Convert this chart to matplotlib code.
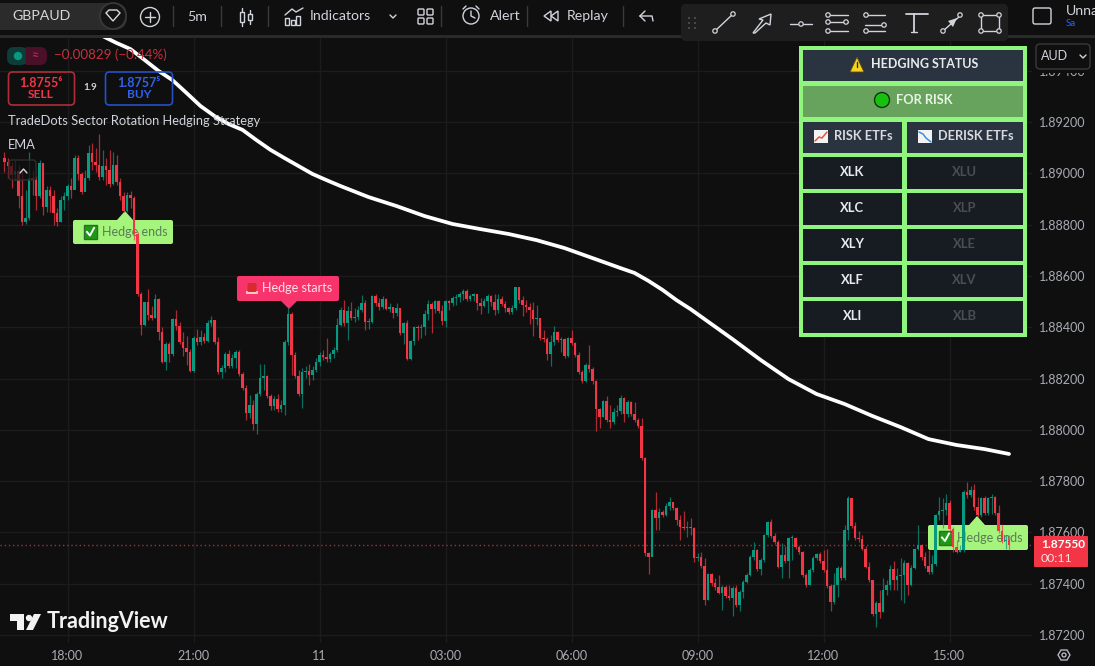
import matplotlib
matplotlib.use("Agg")
import matplotlib.pyplot as plt
from matplotlib.patches import Rectangle, FancyBboxPatch, Polygon, Circle
import numpy as np

plt.rcParams["font.family"] = ["Lato", "DejaVu Sans"]

# prices are stored as points above 1.87000 (1 point = 0.00001)
first_open = 2060
close_pts = [
    2045,2029,1994,2010,1912,1811,1826,1982,1974,1912,2041,1869,1936,1912,1846,1811,1897,1912,1951,1936,
    2060,1998,1928,1982,2080,2045,2033,1986,2029,2014,1959,2033,1967,1912,1854,1916,1904,1764,1530,
    1409,1499,1448,1436,1510,1382,1265,1335,1296,1432,1405,1343,1319,1304,1230,1358,1343,1362,1347,1417,
    1429,1343,1226,1241,1296,1249,1280,1304,1218,1163,1066,1097,1023,1140,1202,1210,1132,1093,1120,1081,
    1097,1343,1452,1292,1210,1140,1226,1230,1214,1234,1265,1292,1284,1276,1296,1311,1409,1468,1417,1464,
    1436,1440,1468,1495,1421,1421,1522,1495,1479,1510,1471,1479,1456,1475,1378,1417,1276,1347,1401,1397,
    1401,1452,1491,1471,1503,1464,1425,1503,1495,1514,1518,1530,1542,1510,1522,1530,1495,1483,1503,1522,
    1499,1468,1510,1491,1475,1460,1475,1557,1507,1487,1479,1468,1432,1436,1358,1354,1296,1343,1382,1351,
    1354,1288,1358,1339,1292,1226,1191,1253,1237,1191,1081,1050,1113,1038,1031,1070,1074,1124,1062,1109,
    1062,1038,1015,890,520,504,688,656,680,668,703,719,695,648,621,617,621,617,500,504,
    469,336,438,403,387,364,387,352,344,383,317,368,407,434,504,531,457,493,590,641,
    586,563,465,512,489,578,578,543,524,434,395,453,500,516,489,453,391,329,395,461,
    422,609,734,625,578,574,535,465,415,282,325,290,375,395,457,415,430,434,481,395,
    461,535,551,504,469,446,477,668,684,688,715,613,543,524,531,758,746,765,699,668,
    734,676,734,738,676,606,567,571,550,
]
high_pts = [
    2084,2060,2045,2052,2033,2014,1936,2084,2014,1990,2052,2041,1951,1951,1936,1865,1912,1928,1959,1982,
    2072,2072,2006,2014,2111,2119,2099,2154,2091,2060,2091,2084,2072,1982,1928,1928,1932,1912,1772,
    1538,1499,1549,1483,1530,1514,1401,1343,1343,1436,1468,1421,1382,1366,1315,1366,1393,1390,1378,1429,
    1444,1429,1362,1253,1304,1311,1296,1311,1311,1226,1175,1136,1116,1148,1257,1257,1214,1140,1132,1140,
    1116,1351,1475,1460,1304,1234,1241,1249,1257,1249,1280,1304,1311,1358,1304,1323,1436,1479,1507,1483,
    1499,1475,1483,1526,1507,1436,1526,1530,1514,1522,1514,1495,1479,1495,1475,1421,1429,1351,1405,1409,
    1413,1468,1507,1499,1507,1507,1487,1507,1507,1522,1530,1538,1549,1549,1530,1534,1530,1514,1514,1530,
    1526,1530,1530,1522,1503,1479,1487,1557,1557,1522,1507,1495,1499,1487,1436,1390,1362,1370,1405,1386,
    1362,1358,1362,1390,1343,1304,1234,1261,1331,1245,1194,1085,1116,1132,1097,1085,1097,1136,1128,1116,
    1113,1109,1046,1046,894,524,691,758,695,688,715,738,719,699,668,684,645,656,621,520,
    524,500,442,442,422,434,395,395,395,391,395,375,415,442,512,563,535,500,594,645,
    652,598,571,559,547,582,590,582,551,528,442,461,508,520,524,531,535,399,442,469,
    469,629,742,734,641,606,590,547,485,415,333,375,422,415,473,489,461,500,493,485,
    473,539,629,555,524,531,512,672,738,734,750,727,621,571,551,765,797,781,789,738,
    738,742,738,750,742,707,633,590,590,
]
low_pts = [
    2006,1982,1943,1974,1865,1799,1803,1818,1916,1858,1904,1838,1850,1850,1799,1795,1811,1858,1897,1904,
    1982,1974,1920,1936,1974,2014,2006,1974,1974,1955,1947,1955,1955,1897,1850,1850,1865,1740,1522,
    1370,1405,1429,1429,1436,1351,1261,1234,1265,1288,1390,1335,1288,1253,1226,1226,1331,1331,1339,1343,
    1405,1335,1218,1202,1226,1241,1241,1241,1210,1156,1038,1046,1000,984,1132,1156,1124,1077,1077,1070,
    1070,1058,1331,1214,1202,1132,1085,1202,1175,1194,1226,1249,1272,1265,1265,1280,1304,1405,1405,1351,
    1429,1421,1429,1460,1390,1393,1417,1483,1468,1471,1468,1460,1436,1444,1370,1335,1272,1272,1331,1351,
    1358,1370,1429,1378,1456,1456,1409,1401,1468,1483,1487,1499,1507,1503,1503,1503,1468,1452,1479,1456,
    1483,1448,1456,1483,1460,1452,1452,1468,1495,1444,1460,1413,1366,1409,1351,1343,1272,1249,1331,1343,
    1304,1280,1284,1331,1284,1218,1183,1187,1226,1179,996,1007,1050,1031,1007,1023,1054,1062,1031,1050,
    1054,1031,1007,882,508,438,508,610,610,660,664,688,688,629,571,610,582,590,485,489,
    461,317,336,391,375,360,297,344,336,274,309,294,344,403,430,493,450,434,485,582,
    578,555,461,422,481,422,493,535,516,426,387,395,446,493,481,446,383,294,321,348,
    415,415,571,617,571,563,531,461,407,274,231,266,290,356,375,375,375,336,325,356,
    391,457,531,493,461,438,438,469,649,617,668,602,524,520,524,524,734,738,688,660,
    660,668,668,672,668,598,559,535,531,
]

# EMA, candle index and points above 1.87000
ema_index = [28, 32, 36, 40, 44, 48, 52, 56, 60, 64, 68, 72, 76, 80, 84, 88, 92, 96, 104, 112, 120, 128,
             136, 144, 152, 160, 168, 176, 180, 184, 188, 192, 196, 200, 204, 208, 216, 224, 232, 240, 248,
             256, 264, 272, 280, 287]
ema_pts = [2536, 2509, 2485, 2443, 2400, 2364, 2314, 2263, 2224, 2193, 2170, 2130, 2092, 2060, 2029, 1998,
           1974, 1951, 1908, 1873, 1834, 1803, 1783, 1764, 1740, 1709, 1670, 1631, 1612, 1581, 1546, 1506,
           1471, 1432, 1393, 1354, 1273, 1198, 1140, 1101, 1054, 1011, 964, 941, 925, 906]

price_ticks = [1.872, 1.874, 1.876, 1.878, 1.880, 1.882, 1.884, 1.886, 1.888, 1.890, 1.892, 1.894]
time_ticks = [18, 54, 90, 126, 162, 198, 234, 270]
time_labels = ["18:00", "21:00", "11", "03:00", "06:00", "09:00", "12:00", "15:00"]
last_price = 1.87550
risk_etfs = ["XLK", "XLC", "XLY", "XLF", "XLI"]
derisk_etfs = ["XLU", "XLP", "XLE", "XLV", "XLB"]

BG = "#0f0f0f"
GRID = "#1c1c1c"
UP = "#089981"
DOWN = "#f23645"
TXT = "#d1d4dc"
PANEL_GREEN = "#8ff57c"

close = 1.87 + np.array(close_pts) / 1e5
high = 1.87 + np.array(high_pts) / 1e5
low = 1.87 + np.array(low_pts) / 1e5
opens = np.r_[1.87 + first_open / 1e5, close[:-1]]
idx = np.arange(len(close))
up = close >= opens
colors = np.where(up, UP, DOWN)

fig = plt.figure(figsize=(10.95, 6.66), dpi=100, facecolor=BG)
ax = fig.add_axes([0, 23 / 666, 1032 / 1095, 607 / 666], facecolor=BG)
ax.set_xlim(-1.2857, 293.57)
ax.set_ylim(1.87 + 168.8 / 1e5, 1.87 + 2536.1 / 1e5)
for s in ax.spines.values():
    s.set_visible(False)
ax.yaxis.tick_right()
ax.set_yticks(price_ticks, [f"{p:.5f}" for p in price_ticks])
ax.set_xticks(time_ticks, time_labels)
ax.tick_params(axis="both", length=0, labelsize=9.0, labelcolor="#a8abb3")
ax.tick_params(axis="y", pad=5)
ax.tick_params(axis="x", pad=5)
ax.grid(True, color=GRID, lw=1)
ax.set_axisbelow(True)

# candles
ax.vlines(idx, low, high, colors=colors, lw=0.9, alpha=0.7, zorder=4)
ax.bar(idx, np.maximum(np.abs(close - opens), 0.00005), bottom=np.minimum(close, opens),
       width=0.85, color=colors, lw=0, zorder=5)
ax.plot(ema_index, 1.87 + np.array(ema_pts) / 1e5, color="white", lw=2.7, zorder=6, solid_capstyle="round")
ax.axhline(last_price, color="#a3303c", lw=1, ls=(0, (1, 2)), zorder=3)

# everything that is not chart goes on an overlay in pixels
ui = fig.add_axes([0, 0, 1, 1], facecolor="none", zorder=5)
ui.set_xlim(0, 1095)
ui.set_ylim(666, 0)
ui.axis("off")


def box(x0, y0, x1, y1, fc, ec="none", lw=0, r=0, target=None, z=2):
    if r:
        p = FancyBboxPatch((x0 + r, y0 + r), x1 - x0 - 2 * r, y1 - y0 - 2 * r, boxstyle=f"round,pad={r}",
                           fc=fc, ec=ec, lw=lw, zorder=z)
    else:
        p = Rectangle((x0, y0), x1 - x0, y1 - y0, fc=fc, ec=ec, lw=lw, zorder=z)
    if target is not None:
        p.set_transform(ui.transData)
        p.set_clip_on(False)
        target.add_patch(p)
    else:
        ui.add_patch(p)
    return p


def label(x, y, s, size=10, color=TXT, weight="normal", ha="left", z=4):
    return ui.text(x, y, s, fontsize=size, color=color, fontweight=weight, ha=ha, va="center", zorder=z)


def line(xs, ys, color=TXT, lw=1.0, z=4):
    ui.plot(xs, ys, color=color, lw=lw, zorder=z, solid_capstyle="round", solid_joinstyle="round")


def ring(x, y, r, ec=TXT, fc="none", lw=1.0, z=4):
    ui.add_patch(Circle((x, y), r, fc=fc, ec=ec, lw=lw, zorder=z))


# hedge labels sit under the candles
def hedge_label(x0, y0, x1, y1, tip_x, tip_y, text, fc, tc, kind):
    box(x0, y0, x1, y1, fc, r=2, target=ax, z=3)
    below = tip_y > y1
    base = y1 if below else y0
    tri = Polygon([(tip_x - 8, base), (tip_x + 8, base), (tip_x, tip_y)], fc=fc, ec="none", zorder=3,
                  transform=ui.transData, clip_on=False)
    ax.add_patch(tri)
    cy = (y0 + y1) / 2
    if kind == "end":
        box(x0 + 11, cy - 7, x0 + 24, cy + 7, "#1d9a15", ec="#2f6b2b", lw=1, target=ax, z=3.2)
        ax.plot([x0 + 14, x0 + 17, x0 + 21], [cy, cy + 3.5, cy - 4], color="white", lw=1.4, zorder=3.3,
                transform=ui.transData, clip_on=False)
        tx = x0 + 29
    else:
        box(x0 + 9, cy + 2, x0 + 21, cy + 5, "#f4c7c7", target=ax, z=3.2)
        w = FancyBboxPatch((x0 + 12, cy - 4), 6, 6, boxstyle="round,pad=1.5", fc="#d92b2b", ec="none", zorder=3.2,
                           transform=ui.transData, clip_on=False)
        ax.add_patch(w)
        tx = x0 + 25
    ax.text(tx, cy, text, fontsize=9.0, color=tc, va="center", ha="left", zorder=3.4,
            transform=ui.transData, clip_on=False)


hedge_label(73, 220, 173, 244, 125, 211, "Hedge ends", "#a5f57c", "#5a7c56", "end")
hedge_label(237, 276, 339, 301, 289, 309, "Hedge starts", "#f7346b", "#fde3ea", "start")
hedge_label(928, 525, 1028, 550, 977, 516, "Hedge ends", "#a5f57c", "#5a7c56", "end")

# top bar
box(0, 0, 1095, 35, BG)
box(0, 35, 1095, 38, "#2a2a2a")
box(-14, 3, 127, 30, "#2b2b2b", r=13)
label(12, 16, "GBPAUD", 10.2, "#d8d8d8")
ring(113, 16, 13, ec="#3a3a3a", fc="#141414", lw=1.2)
ui.add_patch(Polygon([(106, 13), (109, 10), (117, 10), (120, 13), (113, 21)], fc="none", ec="#d8d8d8", lw=1, zorder=4))
ring(150, 17, 9.5, lw=1)
line([145, 155], [17, 17])
line([150, 150], [12, 22])
for sx in [173, 221, 268, 441, 527, 623]:
    line([sx, sx], [6, 26], color="#3a3a3a", lw=1)
label(197, 17, "5m", 10.2, ha="center")
# candle icon
line([242, 242], [8, 26])
line([250, 250], [10, 24])
box(240, 12, 244, 22, BG, ec=TXT, lw=1, z=4)
box(248, 14, 252, 20, BG, ec=TXT, lw=1, z=4)
# indicators icon
line([285, 292, 296, 303], [15, 9, 12, 8], lw=1)
for bx, by in [(285, 18), (291, 20), (296, 16)]:
    box(bx, by, bx + 4, 25, "none", ec=TXT, lw=1, z=4)
label(310, 16, "Indicators", 10.2)
line([390, 393, 396], [15, 18, 15], lw=1)
for gx in [418, 427]:
    for gy in [9, 18]:
        box(gx, gy, gx + 6, gy + 6, "none", ec=TXT, lw=1, r=1, z=4)
# alert
ring(471, 16, 8)
line([463, 466], [9, 6])
line([476, 479], [6, 9])
line([471, 471, 475], [11, 16, 18])
label(490, 16, "Alert", 10.2)
# replay
ui.add_patch(Polygon([(551, 11), (551, 21), (544, 16)], fc="none", ec=TXT, lw=1, zorder=4))
ui.add_patch(Polygon([(558, 11), (558, 21), (551, 16)], fc="none", ec=TXT, lw=1, zorder=4))
label(567, 16, "Replay", 10.2)
line([640, 645], [16, 11])
line([640, 645], [16, 21])
line([640, 652, 653], [16, 16, 21])
box(1033, 8, 1051, 24, "none", ec=TXT, lw=1, r=2, z=4)
label(1066, 11, "Unna", 10.2)
label(1066, 24, "Sa", 7, "#2962ff")

# floating drawing bar
box(681, 4, 1008, 41, "#1e1e1e", r=5, z=3)
for dy in [18, 23, 28]:
    for dx in [689, 695]:
        ring(dx, dy, 0.8, ec="#555555", fc="#555555", lw=0.3)


def nodes(pts):
    for nx, ny in pts:
        ring(nx, ny, 2.2, fc="#1e1e1e", lw=0.9, z=5)


line([715, 733], [31, 14], lw=1)
nodes([(715, 31), (733, 14)])
ui.add_patch(Polygon([(753, 33), (763, 20), (759, 19), (771, 14), (770, 25), (766, 23), (755, 33)], fc="none", ec=TXT, lw=1, zorder=4))
line([790, 812], [24, 24], lw=1)
nodes([(801, 24)])
for ly in [15, 22, 31]:
    line([827, 848], [ly, ly], lw=1)
nodes([(828, 15), (828, 22), (828, 31), (846, 22)])
for ly in [15, 25, 31]:
    line([865, 885], [ly, ly], lw=1)
nodes([(866, 15), (866, 31), (884, 25)])
line([906, 928], [14, 14], lw=1.3)
line([914, 914], [14, 32], lw=1.3)
line([911, 917], [32, 32], lw=1)
line([943, 960], [31, 16], lw=1)
nodes([(943, 31), (960, 15)])
ui.add_patch(Polygon([(948, 21), (957, 18), (953, 27)], fc=TXT, ec="none", zorder=4))
box(981, 15, 999, 31, "none", ec=TXT, lw=1, z=4)
nodes([(981, 15), (999, 15), (981, 31), (999, 31)])

# top-left legend
box(7, 47, 28, 65, "#0e3c37", r=7, z=3)
box(26, 47, 47, 65, "#4a1028", r=7, z=3)
box(26, 47, 33, 65, "#4a1028", z=3)
ring(18, 56, 3.5, ec=UP, fc=UP)
label(36, 55, "≈", 9, "#d0245c", ha="center")
label(54, 55, "−0.00829 (−0.44%)", 9.6, "#c72e3d")
box(8.5, 72, 74.5, 105, "none", ec="#b02c3a", lw=1.2, r=4, z=4)
box(105.5, 72, 172.5, 105, "none", ec="#2450c8", lw=1.2, r=4, z=4)
label(41, 83, "1.8755⁶", 9, DOWN, "bold", ha="center")
label(41, 94, "SELL", 8.6, DOWN, "bold", ha="center")
label(139, 83, "1.8757⁵", 9, "#2f62f0", "bold", ha="center")
label(139, 94, "BUY", 8.6, "#2f62f0", "bold", ha="center")
label(90, 88, "1.9", 7, TXT, "bold", ha="center")
label(8, 121, "TradeDots Sector Rotation Hedging Strategy", 9.25)
label(8, 145, "EMA", 9.25)
box(9, 160, 36, 180, "#0f0f0fb0", ec="#2e2e2e", lw=1, r=3, z=4)
line([20, 23.5, 27], [173, 169, 173], lw=1, z=5)

# bottom logo
ui.add_patch(Polygon([(10, 614), (24, 614), (24, 630), (17, 630), (17, 621), (10, 621)], fc="#f2f2f2", ec="none", zorder=4))
ring(29, 618, 3.2, ec="#f2f2f2", fc="#f2f2f2", lw=0)
ui.add_patch(Polygon([(34, 614), (41, 614), (33, 630), (26, 630)], fc="#f2f2f2", ec="none", zorder=4))
label(47, 622, "TradingView", 15.5, "#f2f2f2", "bold")
ui.add_patch(Polygon([(1058, 655), (1061, 650), (1067, 650), (1070, 655), (1067, 660), (1061, 660)], fc="none", ec="#b2b5be", lw=1, zorder=4))
ring(1064, 655, 2, ec="#b2b5be")

# AUD box, the top price label is half hidden behind it
box(1033, 38, 1095, 73, BG, z=3)
box(1036, 44, 1090, 69, BG, ec="#3a3a3a", lw=1, r=4, z=4)
label(1041, 56, "AUD", 9, TXT, z=5)
line([1080, 1083, 1086], [55, 58, 55], lw=1, z=5)

# last price tag
box(1034, 536, 1088, 567, DOWN, r=1, z=4)
label(1041, 545, f"{last_price:.5f}", 8.6, "white", "bold", z=5)
label(1041, 559, "00:11", 8.8, "#fbe0e3", z=5)

# hedging panel
box(799, 46, 1027, 337, PANEL_GREEN, z=3)
head = "#2a3340"
cell = "#161c22"
box(803, 50, 1023, 81, head, z=3.5)
box(803, 86, 1023, 117, "#67a35c", z=3.5)
box(803, 122, 902, 153, head, z=3.5)
box(907, 122, 1023, 153, head, z=3.5)
ui.add_patch(Polygon([(850, 72), (857, 57), (864, 72)], fc="#f7d21e", ec="#5a4a10", lw=0.6, zorder=4))
line([857, 857], [62, 67], color="#333333", lw=1, z=5)
label(871, 64, "HEDGING STATUS", 9.0, "#e8eaed", "bold")
ring(882, 100, 7.5, ec="#14340f", fc="#17c20f", lw=1)
label(896, 100, "FOR RISK", 9.2, "#e8f3e5", "bold")
box(814, 130, 828, 143, "#f3f3f3", z=4)
line([815, 819, 822, 827], [141, 137, 138, 132], color="#e8553e", lw=1.1, z=5)
box(918, 130, 932, 143, "#f3f3f3", z=4)
line([919, 923, 926, 931], [132, 134, 138, 142], color="#3b8fe0", lw=1.1, z=5)
label(834, 136, "RISK ETFs", 9.2, "#d8dade", "bold")
label(938, 136, "DERISK ETFs", 9.2, "#d8dade", "bold")
for k, (a, b) in enumerate(zip(risk_etfs, derisk_etfs)):
    y0 = 157 + 36 * k
    box(803, y0, 902, y0 + 32, cell, z=3.5)
    box(907, y0, 1023, y0 + 32, cell, z=3.5)
    label(852.5, y0 + 15.5, a, 9.4, "#e8eaed", "bold", ha="center")
    label(964.5, y0 + 15.5, b, 9.4, "#4a4d52", "bold", ha="center")

fig.savefig("out.png", dpi=100, facecolor=BG)
